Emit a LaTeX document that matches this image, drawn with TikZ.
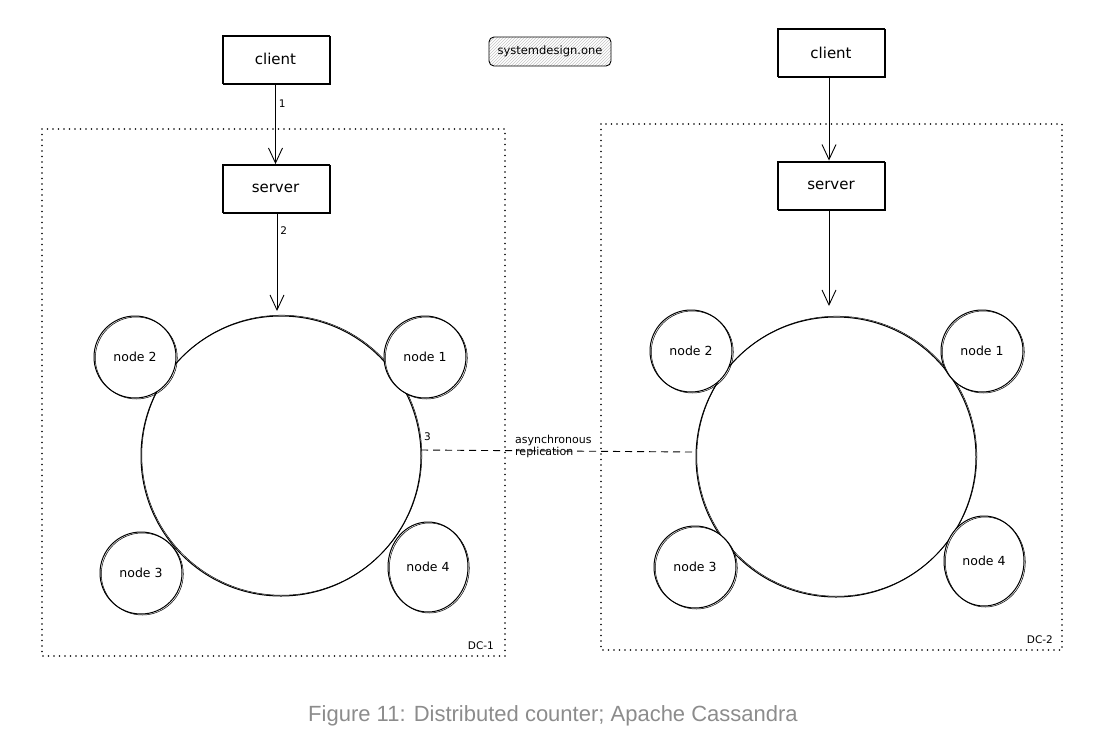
\documentclass[tikz,border=0pt]{standalone}
\usepackage{fontspec}
\setmainfont{DejaVu Sans}
\newfontfamily\captionfont{Liberation Sans}
\usetikzlibrary{arrows.meta,patterns,shapes.geometric}
\definecolor{capgray}{HTML}{8C8C8C}
\begin{document}
\begin{tikzpicture}[x=1pt,y=-1pt,
  box/.style={draw, line width=0.9pt, minimum width=107pt, minimum height=48pt, inner sep=0pt,
    font=\fontsize{15}{17}\selectfont,
    postaction={draw, line width=0.5pt, transform canvas={shift={(1.2pt,-1pt)}}}},
  ring/.style={draw, circle, line width=1pt, minimum size=280pt, inner sep=0pt,
    postaction={draw, line width=0.5pt, transform canvas={shift={(0.8pt,0.8pt)}}}},
  member/.style={draw, circle, line width=1pt, minimum size=82pt, inner sep=0pt, fill=white,
    font=\fontsize{12.5}{14}\selectfont,
    postaction={draw, line width=0.5pt, transform canvas={shift={(1.3pt,-1pt)}}}},
  dcbox/.style={draw, line width=1.8pt, line cap=round, dash pattern=on 0pt off 5.5pt},
  flow/.style={-{Straight Barb[length=15pt,width=14pt]}, line width=0.9pt},
  lbl/.style={font=\fontsize{10.5}{12}\selectfont, inner sep=1pt},
  small/.style={font=\fontsize{11}{13}\selectfont, inner sep=0pt, align=left}
]
\useasboundingbox (0,0) rectangle (1095,745);

% data centre boundaries
\draw[dcbox] (42,129) rectangle (505,656);
\draw[dcbox] (601,124) rectangle (1062,650);
\node[lbl, anchor=south east] (dc1) at (495,651) {DC-1};
\node[lbl, anchor=south east] (dc2) at (1054,645) {DC-2};

% watermark
\node[draw, line width=0.9pt, rounded corners=5pt, pattern=north east lines, pattern color=gray!45,
  minimum width=122pt, minimum height=29pt, inner sep=0pt, font=\fontsize{11.5}{13}\selectfont]
  (brand) at (550,51.5) {systemdesign.one};

% left data centre
\node[box] (client1) at (275.5,59) {client};
\node[box] (server1) at (275.5,188.5) {server};
\node[ring] (ring1) at (281,456) {};
\node[member] (n12) at (135,357) {node 2};
\node[member] (n11) at (425,357) {node 1};
\node[member] (n13) at (141,573) {node 3};
\node[member, ellipse, minimum width=80pt, minimum height=90pt] (n14) at (428,567) {node 4};

\draw[flow] (client1.south) -- (server1.north) node[lbl, pos=0.25, right=2pt] (l1) {1};
\coordinate (top1) at (277,311);
\draw[flow] (server1.south -| top1) -- (top1) node[lbl, pos=0.18, right=2pt] (l2) {2};

% right data centre
\node[box] (client2) at (831,52.5) {client};
\node[box] (server2) at (831,185) {server};
\node[ring] (ring2) at (836,457) {};
\node[member] (n22) at (691,351) {node 2};
\node[member] (n21) at (982,351) {node 1};
\node[member] (n23) at (695,567) {node 3};
\node[member, ellipse, minimum width=80pt, minimum height=90pt] (n24) at (984,561) {node 4};

\coordinate (c2x) at (829,0);
\draw[flow] (client2.south -| c2x) -- (server2.north -| c2x);
\coordinate (top2) at (829,306);
\draw[flow] (server2.south -| top2) -- (top2);

% asynchronous replication
\coordinate (repA) at (421,450);
\coordinate (repB) at (692,452);
\draw[dashed, dash pattern=on 7pt off 5pt, line width=0.9pt] (repA) -- (repB);
\node[lbl, anchor=south west] (l3) at (423,442) {3};
\node[small, anchor=west] (async) at (515,446.5) {asynchronous\\[-1.5pt]replication};

% caption
\node[font=\captionfont\fontsize{22}{26}\selectfont, text=capgray] (caption) at (553,716) {Figure 11: Distributed counter; Apache Cassandra};
\end{tikzpicture}
\end{document}
